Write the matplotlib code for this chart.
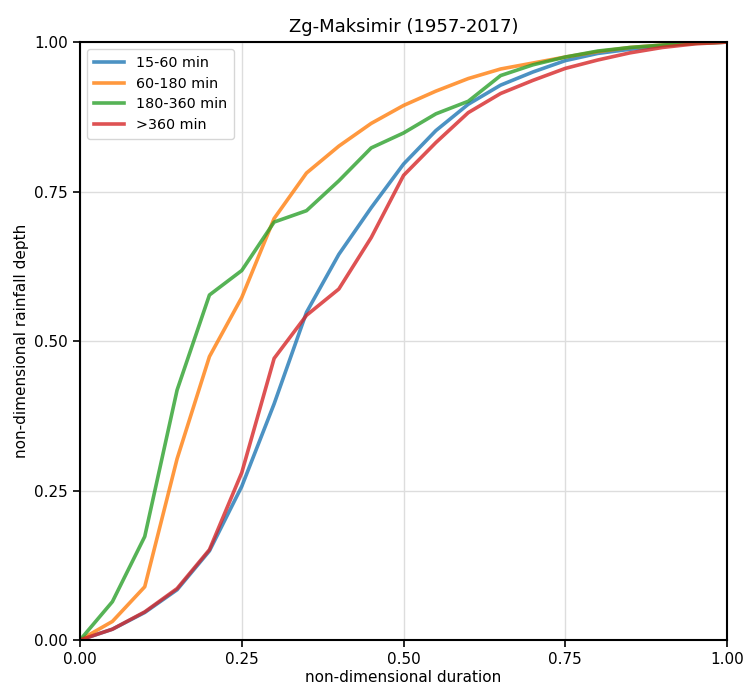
import matplotlib
matplotlib.use("Agg")
import matplotlib.pyplot as plt
import numpy as np

x = [0.0, 0.05, 0.10, 0.15, 0.20, 0.25, 0.30, 0.35, 0.40, 0.45, 0.50,
     0.55, 0.60, 0.65, 0.70, 0.75, 0.80, 0.85, 0.90, 0.95, 1.0]

s15_60 = [0.0, 0.018, 0.046, 0.084, 0.149, 0.257, 0.395, 0.548, 0.645, 0.723, 0.796,
          0.852, 0.896, 0.928, 0.950, 0.969, 0.981, 0.988, 0.994, 0.998, 1.0]
s60_180 = [0.0, 0.031, 0.089, 0.303, 0.474, 0.573, 0.705, 0.781, 0.826, 0.864, 0.894,
           0.918, 0.939, 0.955, 0.965, 0.975, 0.984, 0.991, 0.995, 0.998, 1.0]
s180_360 = [0.0, 0.064, 0.173, 0.418, 0.577, 0.618, 0.699, 0.718, 0.768, 0.823, 0.848,
            0.880, 0.901, 0.944, 0.962, 0.975, 0.985, 0.991, 0.995, 0.998, 1.0]
s360 = [0.0, 0.018, 0.047, 0.086, 0.151, 0.280, 0.471, 0.543, 0.587, 0.673, 0.777,
        0.832, 0.882, 0.914, 0.936, 0.956, 0.970, 0.982, 0.991, 0.997, 1.0]

labels = ["15-60 min", "60-180 min", "180-360 min", ">360 min"]
colors = ["#1f77b4", "#ff7f0e", "#2ca02c", "#d62728"]
series = [s15_60, s60_180, s180_360, s360]

ticks = [0.0, 0.25, 0.5, 0.75, 1.0]
tick_labels = ["0.00", "0.25", "0.50", "0.75", "1.00"]

fig = plt.figure(figsize=(7.48, 6.90), dpi=100)
ax = fig.add_axes([0.107, 0.0725, 0.865, 0.8665])

for s, lab, c in zip(series, labels, colors):
    ax.plot(x, s, color=c, lw=2.6, alpha=0.8, label=lab)

ax.set_xlim(0, 1)
ax.set_ylim(0, 1)
ax.set_xticks(ticks)
ax.set_xticklabels(tick_labels)
ax.set_yticks(ticks)
ax.set_yticklabels(tick_labels)
ax.tick_params(labelsize=11, length=5, width=1.2)
ax.grid(True, color="#dddddd", lw=1)
ax.set_axisbelow(True)
for sp in ax.spines.values():
    sp.set_linewidth(1.5)
ax.set_xlabel("non-dimensional duration", fontsize=11, labelpad=2)
ax.set_ylabel("non-dimensional rainfall depth", fontsize=11)
ax.set_title("Zg-Maksimir (1957-2017)", fontsize=13, pad=7)
ax.legend(loc="upper left", fontsize=10.3, handlelength=2.1, borderpad=0.5,
          labelspacing=0.45)

fig.savefig("out.png", dpi=100)
